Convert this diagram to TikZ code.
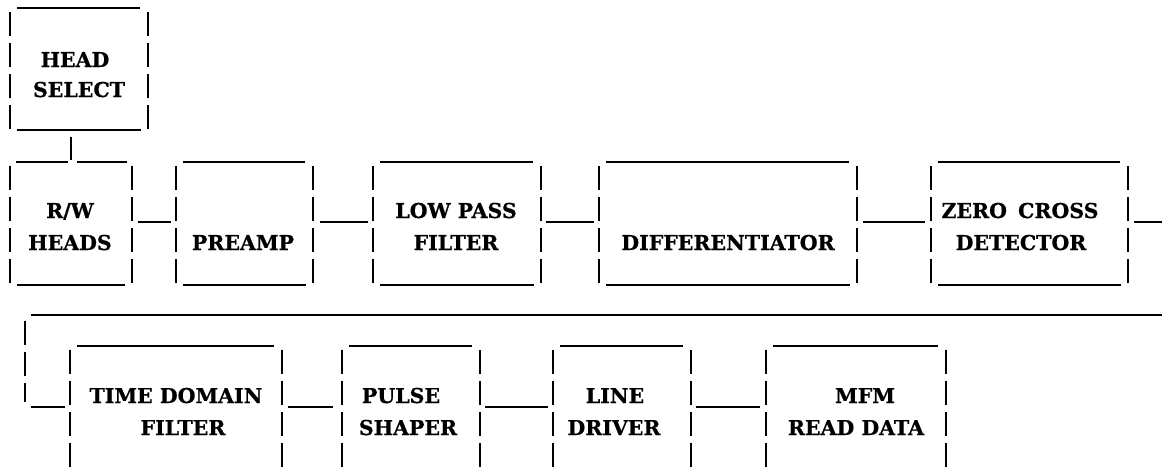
\documentclass[tikz,border=0pt]{standalone}
\usepackage{fontspec}
\setmainfont{DejaVu Serif}[BoldFeatures={FakeBold=0.6}]
\usetikzlibrary{calc}
\tikzset{
  frame/.style={rectangle, draw=none, inner sep=0pt, outer sep=0pt},
  hline/.style={line width=2.3pt, line cap=butt},
  vline/.style={line width=2.8pt, line cap=butt, dash pattern=on 24pt off 7pt},
  tick/.style={line width=2.8pt, line cap=butt},
  lbl/.style={anchor=base, inner sep=0pt, font=\fontsize{20.5}{24}\selectfont\bfseries},
}
% name, left, top, right, bottom
\newcommand\tyPlace[5]{%
  \node[frame, minimum width={#4-#2}, minimum height={#5-#3}] (#1) at ({(#2+#4)/2},{(#3+#5)/2}) {};}
\newcommand\tyTop[1]{%
  \draw[hline] ($(#1.north west)+(7,0)$) -- ($(#1.north east)+(-8,0)$);}
\newcommand\tySides[1]{%
  \draw[vline] ($(#1.north west)+(0,4)$) -- (#1.south west);
  \draw[vline] ($(#1.north east)+(0,4)$) -- (#1.south east);}
\newcommand\tyBottom[1]{%
  \draw[hline] ($(#1.south west)+(7,0)$) -- ($(#1.south east)+(-7,0)$);}
\begin{document}
\begin{tikzpicture}[x=1pt, y=-1pt]
\clip (0,0) rectangle (1162,466);
\fill[white] (0,0) rectangle (1162,466);

% boxes
\tyPlace{hs}{10}{8}{148}{130}
\tyPlace{rw}{10}{162}{132}{285}
\tyPlace{pre}{176}{162}{313}{285}
\tyPlace{lpf}{373}{162}{541}{285}
\tyPlace{dif}{599}{162}{857}{285}
\tyPlace{zcd}{931}{162}{1128}{285}
\tyPlace{tdf}{70}{346}{282}{468}
\tyPlace{ps}{342}{346}{480}{468}
\tyPlace{ld}{553}{346}{691}{468}
\tyPlace{mfm}{766}{346}{946}{468}

\foreach \b in {hs,pre,lpf,dif,zcd,tdf,ps,ld,mfm} {\tyTop{\b}}
\foreach \b in {hs,rw,pre,lpf,dif,zcd,tdf,ps,ld,mfm} {\tySides{\b}}
\foreach \b in {hs,rw,pre,lpf,dif,zcd} {\tyBottom{\b}}
% R/W top line, broken where the head-select line meets it
\draw[hline] ($(rw.north west)+(6,0)$) -- ($(rw.north)+(-3,0)$);
\draw[hline] ($(rw.north)+(6,0)$) -- ($(rw.north east)+(-5,0)$);
\draw[tick] ($(hs.south -| rw.north)+(0,7)$) -- ($(rw.north)+(0,-2)$);

% labels
\node[lbl] (hs1) at (75,67) {HEAD};
\node[lbl] (hs2) at (79,97) {SELECT};
\node[lbl] (rw1) at (70,218) {R/W};
\node[lbl] (rw2) at (70,250) {HEADS};
\node[lbl] (pre1) at (243,250) {PREAMP};
\node[lbl] (lpf1) at (456,218) {LOW PASS};
\node[lbl] (lpf2) at (456,250) {FILTER};
\node[lbl] (dif1) at (728,250) {DIFFERENTIATOR};
\node[lbl] (zcd1) at (1020,218) {ZERO\hspace{4pt} CROSS};
\node[lbl] (zcd2) at (1021,250) {DETECTOR};
\node[lbl] (tdf1) at (176,403) {TIME DOMAIN};
\node[lbl] (tdf2) at (183,435) {FILTER};
\node[lbl] (ps1) at (401,403) {PULSE};
\node[lbl] (ps2) at (408,435) {SHAPER};
\node[lbl] (ld1) at (615,403) {LINE};
\node[lbl] (ld2) at (614,435) {DRIVER};
\node[lbl] (mfm1) at (865,403) {MFM};
\node[lbl] (mfm2) at (856,435) {READ DATA};

% connectors, row 1
\draw[hline] ([xshift=6pt,yshift=1.5pt]rw.east) -- ([xshift=-5pt,yshift=1.5pt]pre.west);
\draw[hline] ([xshift=7pt,yshift=1.5pt]pre.east) -- ([xshift=-5pt,yshift=1.5pt]lpf.west);
\draw[hline] ([xshift=5pt,yshift=1.5pt]lpf.east) -- ([xshift=-5pt,yshift=1.5pt]dif.west);
\draw[hline] ([xshift=6pt,yshift=1.5pt]dif.east) -- ([xshift=-6pt,yshift=1.5pt]zcd.west);
% wrap-around to row 2
\coordinate (e1) at (1162,222);
\coordinate (e2) at (1162,315);
\coordinate (l1) at (31,315);
\coordinate (l2) at (25,321);
\coordinate (l3) at (25,402);
\coordinate (l4) at (31,407);
\draw[hline] ([xshift=6pt,yshift=1.5pt]zcd.east) -- (e1);
\draw[hline] (l1) -- (e2);
\draw[vline] (l2) -- (l3);
\draw[hline] (l4) -- ([xshift=-5pt]tdf.west);
% connectors, row 2
\draw[hline] ([xshift=6pt]tdf.east) -- ([xshift=-9pt]ps.west);
\draw[hline] ([xshift=5pt]ps.east) -- ([xshift=-5pt]ld.west);
\draw[hline] ([xshift=5pt]ld.east) -- ([xshift=-6pt]mfm.west);
\end{tikzpicture}
\end{document}
